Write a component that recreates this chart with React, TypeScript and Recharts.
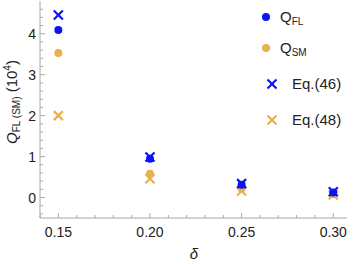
import { Legend, Scatter, ScatterChart, XAxis, YAxis } from "recharts";

const deltas = [0.15, 0.2, 0.25, 0.3];
const qFL = [4.09, 0.95, 0.31, 0.12];
const qSM = [3.53, 0.58, 0.22, 0.08];
const eq46 = [4.46, 0.99, 0.34, 0.14];
const eq48 = [2.0, 0.46, 0.16, 0.06];

const xMajor = [0.15, 0.2, 0.25, 0.3];
const xTicks = [0.14, 0.15, 0.16, 0.17, 0.18, 0.19, 0.2, 0.21, 0.22, 0.23, 0.24, 0.25, 0.26, 0.27, 0.28, 0.29, 0.3];
const yMajor = [0, 1, 2, 3, 4];
const yTicks = [-0.4, -0.2, 0, 0.2, 0.4, 0.6, 0.8, 1, 1.2, 1.4, 1.6, 1.8, 2, 2.2, 2.4, 2.6, 2.8, 3, 3.2, 3.4, 3.6, 3.8, 4, 4.2, 4.4, 4.6];

const BLUE = "#0a14f5";
const ORANGE = "#e8b04f";
const FRAME = "#a8a8a8";
const FONT = "'Liberation Sans', Arial, sans-serif";

const toPoints = (ys: number[]) => deltas.map((x, i) => ({ x, y: ys[i] }));

const isMajor = (v: number, majors: number[]) => majors.some((m) => Math.abs(m - v) < 1e-6);

function Dot({ cx, cy, color }: any) {
  return <circle cx={cx} cy={cy} r={4} fill={color} />;
}

function Cross({ cx, cy, color }: any) {
  const s = 4.5;
  return (
    <g stroke={color} strokeWidth={2.2}>
      <line x1={cx - s} y1={cy - s} x2={cx + s} y2={cy + s} />
      <line x1={cx - s} y1={cy + s} x2={cx + s} y2={cy - s} />
    </g>
  );
}

function BottomTick({ x, y, payload }: any) {
  const major = isMajor(payload.value, xMajor);
  return (
    <g>
      <line x1={x} y1={y} x2={x} y2={y - (major ? 5 : 3)} stroke={FRAME} />
      {major && (
        <text x={x} y={y + 19} textAnchor="middle" fontSize={14} fill="#222" fontFamily={FONT}>
          {payload.value.toFixed(2)}
        </text>
      )}
    </g>
  );
}

function TopTick({ x, y, payload }: any) {
  const major = isMajor(payload.value, xMajor);
  return <line x1={x} y1={y} x2={x} y2={y + (major ? 5 : 3)} stroke={FRAME} />;
}

function LeftTick({ x, y, payload }: any) {
  const major = isMajor(payload.value, yMajor);
  return (
    <g>
      <line x1={x} y1={y} x2={x + (major ? 5 : 3)} y2={y} stroke={FRAME} />
      {major && (
        <text x={x - 4} y={y + 5} textAnchor="end" fontSize={14} fill="#222" fontFamily={FONT}>
          {payload.value}
        </text>
      )}
    </g>
  );
}

function RightTick({ x, y, payload }: any) {
  const major = isMajor(payload.value, yMajor);
  return <line x1={x} y1={y} x2={x - (major ? 5 : 3)} y2={y} stroke={FRAME} />;
}

function LegendBox() {
  const rows = [
    { y: 17, kind: "dot", color: BLUE, main: "Q", sub: "FL" },
    { y: 48, kind: "dot", color: ORANGE, main: "Q", sub: "SM" },
    { y: 84, kind: "cross", color: BLUE, main: "Eq.(46)", sub: "" },
    { y: 120, kind: "cross", color: ORANGE, main: "Eq.(48)", sub: "" },
  ];
  return (
    <svg width={100} height={140} style={{ position: "absolute", left: 253, top: 0 }}>
      {rows.map((r) =>
        r.kind === "dot" ? (
          <g key={r.y}>
            <Dot cx={13} cy={r.y} color={r.color} />
            <text x={27} y={r.y + 5} fontSize={15} fill="#222" fontFamily={FONT}>
              {r.main}
              <tspan fontSize={10} dy={3}>{r.sub}</tspan>
            </text>
          </g>
        ) : (
          <g key={r.y}>
            <Cross cx={19} cy={r.y} color={r.color} />
            <text x={39} y={r.y + 5} fontSize={15} fill="#222" fontFamily={FONT}>
              {r.main}
            </text>
          </g>
        )
      )}
    </svg>
  );
}

function YLabel() {
  return (
    <text
      transform="translate(17,102) rotate(-90)"
      textAnchor="middle"
      fontSize={15}
      fill="#222"
      fontFamily={FONT}
    >
      <tspan fontStyle="italic">Q</tspan>
      <tspan fontSize={10} dy={3}>FL (SM)</tspan>
      <tspan dy={-3}> (10</tspan>
      <tspan fontSize={10} dy={-6}>4</tspan>
      <tspan dy={6}>)</tspan>
    </text>
  );
}

export default function App() {
  return (
    <div style={{ position: "absolute", left: 0, top: 0, width: 353, height: 264, background: "#fff" }}>
      <ScatterChart width={353} height={264} margin={{ top: 1, right: 6, bottom: 0, left: 0 }}>
        <XAxis
          dataKey="x"
          type="number"
          domain={[0.14, 0.3075]}
          ticks={xTicks}
          interval={0}
          height={46}
          tickSize={0}
          tickMargin={0}
          tickLine={false}
          axisLine={{ stroke: FRAME }}
          tick={<BottomTick />}
          allowDataOverflow
        />
        <XAxis
          xAxisId="top"
          orientation="top"
          type="number"
          domain={[0.14, 0.3075]}
          ticks={xTicks}
          interval={0}
          height={0}
          tickSize={0}
          tickMargin={0}
          tickLine={false}
          axisLine={{ stroke: FRAME }}
          tick={<TopTick />}
          allowDataOverflow
        />
        <YAxis
          dataKey="y"
          type="number"
          domain={[-0.5, 4.8]}
          ticks={yTicks}
          interval={0}
          width={40}
          tickSize={0}
          tickMargin={0}
          tickLine={false}
          axisLine={{ stroke: FRAME }}
          tick={<LeftTick />}
          allowDataOverflow
        />
        <YAxis
          yAxisId="right"
          orientation="right"
          type="number"
          domain={[-0.5, 4.8]}
          ticks={yTicks}
          interval={0}
          width={0}
          tickSize={0}
          tickMargin={0}
          tickLine={false}
          axisLine={{ stroke: FRAME }}
          tick={<RightTick />}
          allowDataOverflow
        />
        <Scatter data={toPoints(eq48)} isAnimationActive={false} shape={(p: any) => <Cross {...p} color={ORANGE} />} />
        <Scatter data={toPoints(qSM)} isAnimationActive={false} shape={(p: any) => <Dot {...p} color={ORANGE} />} />
        <Scatter data={toPoints(qFL)} isAnimationActive={false} shape={(p: any) => <Dot {...p} color={BLUE} />} />
        <Scatter data={toPoints(eq46)} isAnimationActive={false} shape={(p: any) => <Cross {...p} color={BLUE} />} />
        <YLabel />
        <text x={194} y={259} textAnchor="middle" fontSize={15} fontStyle="italic" fill="#222" fontFamily={FONT}>
          δ
        </text>
      </ScatterChart>
      <LegendBox />
    </div>
  );
}
